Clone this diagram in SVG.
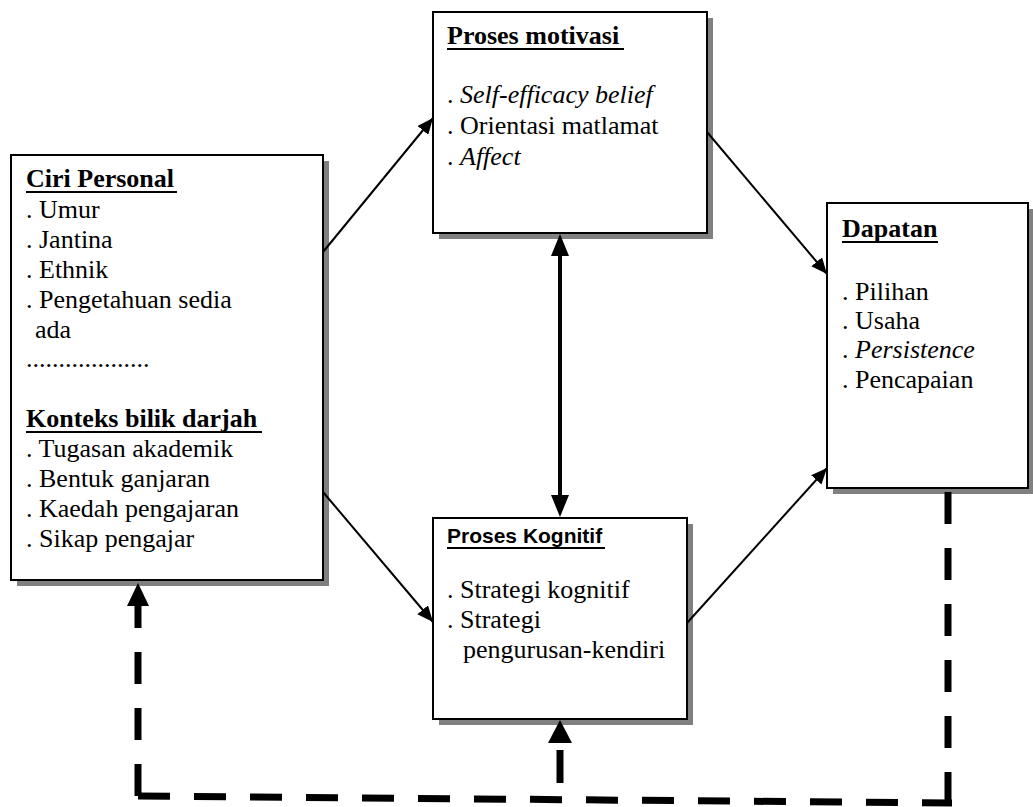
<svg xmlns="http://www.w3.org/2000/svg" width="1033" height="807" viewBox="0 0 1033 807">
<defs>
<style>
.box{fill:#fff;stroke:#000;stroke-width:2}
.sh{fill:#808080}
.t{font-family:"Liberation Serif","Times New Roman",serif;font-size:26px;fill:#000}
.b{font-weight:bold}
.i{font-style:italic}
.ts{font-family:"Liberation Sans",Arial,sans-serif;font-size:21px;font-weight:bold;fill:#000}
.ul{stroke:#000;stroke-width:2}
.thin{stroke:#000;stroke-width:2;fill:none;marker-end:url(#ah)}
.dash{stroke:#000;stroke-width:7;fill:none;stroke-dasharray:32 24}
</style>
<marker id="ah" viewBox="0 0 16 14" refX="16" refY="7" markerWidth="16" markerHeight="14" markerUnits="userSpaceOnUse" orient="auto">
<path d="M0,0 L16,7 L0,14 z" fill="#000"/>
</marker>
</defs>
<rect width="1033" height="807" fill="#fff"/>

<g id="ciri-personal">
<rect class="sh" x="17" y="161" width="312" height="425"/>
<rect class="box" x="11" y="155" width="312" height="425"/>
<text class="t b" x="26" y="187">Ciri Personal</text>
<line class="ul" x1="26" y1="192" x2="177" y2="192"/>
<text class="t" x="26" y="218">. Umur</text>
<text class="t" x="26" y="248">. Jantina</text>
<text class="t" x="26" y="278">. Ethnik</text>
<text class="t" x="26" y="308">. Pengetahuan sedia</text>
<text class="t" x="35" y="338">ada</text>
<text class="t" x="26" y="367">...................</text>
<text class="t b" x="26" y="427">Konteks bilik darjah</text>
<line class="ul" x1="26" y1="432" x2="262" y2="432"/>
<text class="t" x="26" y="457">. Tugasan akademik</text>
<text class="t" x="26" y="487">. Bentuk ganjaran</text>
<text class="t" x="26" y="517">. Kaedah pengajaran</text>
<text class="t" x="26" y="547">. Sikap pengajar</text>
</g>

<g id="proses-motivasi">
<rect class="sh" x="439" y="18" width="274" height="221"/>
<rect class="box" x="433" y="12" width="274" height="221"/>
<text class="t b" x="447" y="44">Proses motivasi</text>
<line class="ul" x1="447" y1="49" x2="624" y2="49"/>
<text class="t" x="447" y="103">. <tspan class="i">Self-efficacy belief</tspan></text>
<text class="t" x="447" y="134">. Orientasi matlamat</text>
<text class="t" x="447" y="165">. <tspan class="i">Affect</tspan></text>
</g>

<g id="proses-kognitif">
<rect class="sh" x="439" y="524" width="254" height="201"/>
<rect class="box" x="433" y="518" width="254" height="201"/>
<text class="ts" x="447" y="543">Proses Kognitif</text>
<line class="ul" x1="447" y1="548" x2="605" y2="548"/>
<text class="t" x="447" y="598">. Strategi kognitif</text>
<text class="t" x="447" y="628">. Strategi</text>
<text class="t" x="463" y="658">pengurusan-kendiri</text>
</g>

<g id="dapatan">
<rect class="sh" x="833" y="209" width="201" height="285"/>
<rect class="box" x="827" y="203" width="201" height="285"/>
<text class="t b" x="842" y="237">Dapatan</text>
<line class="ul" x1="842" y1="242" x2="938" y2="242"/>
<text class="t" x="842" y="300">. Pilihan</text>
<text class="t" x="842" y="329">. Usaha</text>
<text class="t" x="842" y="358">. <tspan class="i">Persistence</tspan></text>
<text class="t" x="842" y="388">. Pencapaian</text>
</g>

<g id="connectors">
<line class="thin" x1="323" y1="252" x2="433" y2="118"/>
<line class="thin" x1="707" y1="132" x2="827" y2="274"/>
<line class="thin" x1="323" y1="492" x2="433" y2="622"/>
<line class="thin" x1="687" y1="623" x2="827" y2="468"/>
<line x1="560" y1="250" x2="560" y2="500" stroke="#000" stroke-width="4"/>
<polygon points="560,234 551,256 569,256" fill="#000"/>
<polygon points="560,517 551,495 569,495" fill="#000"/>
<line class="dash" x1="948" y1="492" x2="948" y2="800"/>
<line class="dash" x1="138" y1="796" x2="952" y2="803" style="stroke-dasharray:32 24"/>
<line class="dash" x1="138" y1="796" x2="138" y2="606"/>
<polygon points="138,583 127,606 149,606" fill="#000"/>
<line x1="560" y1="750" x2="560" y2="783" stroke="#000" stroke-width="7"/>
<polygon points="560,720 548,743 572,743" fill="#000"/>
</g>
</svg>
